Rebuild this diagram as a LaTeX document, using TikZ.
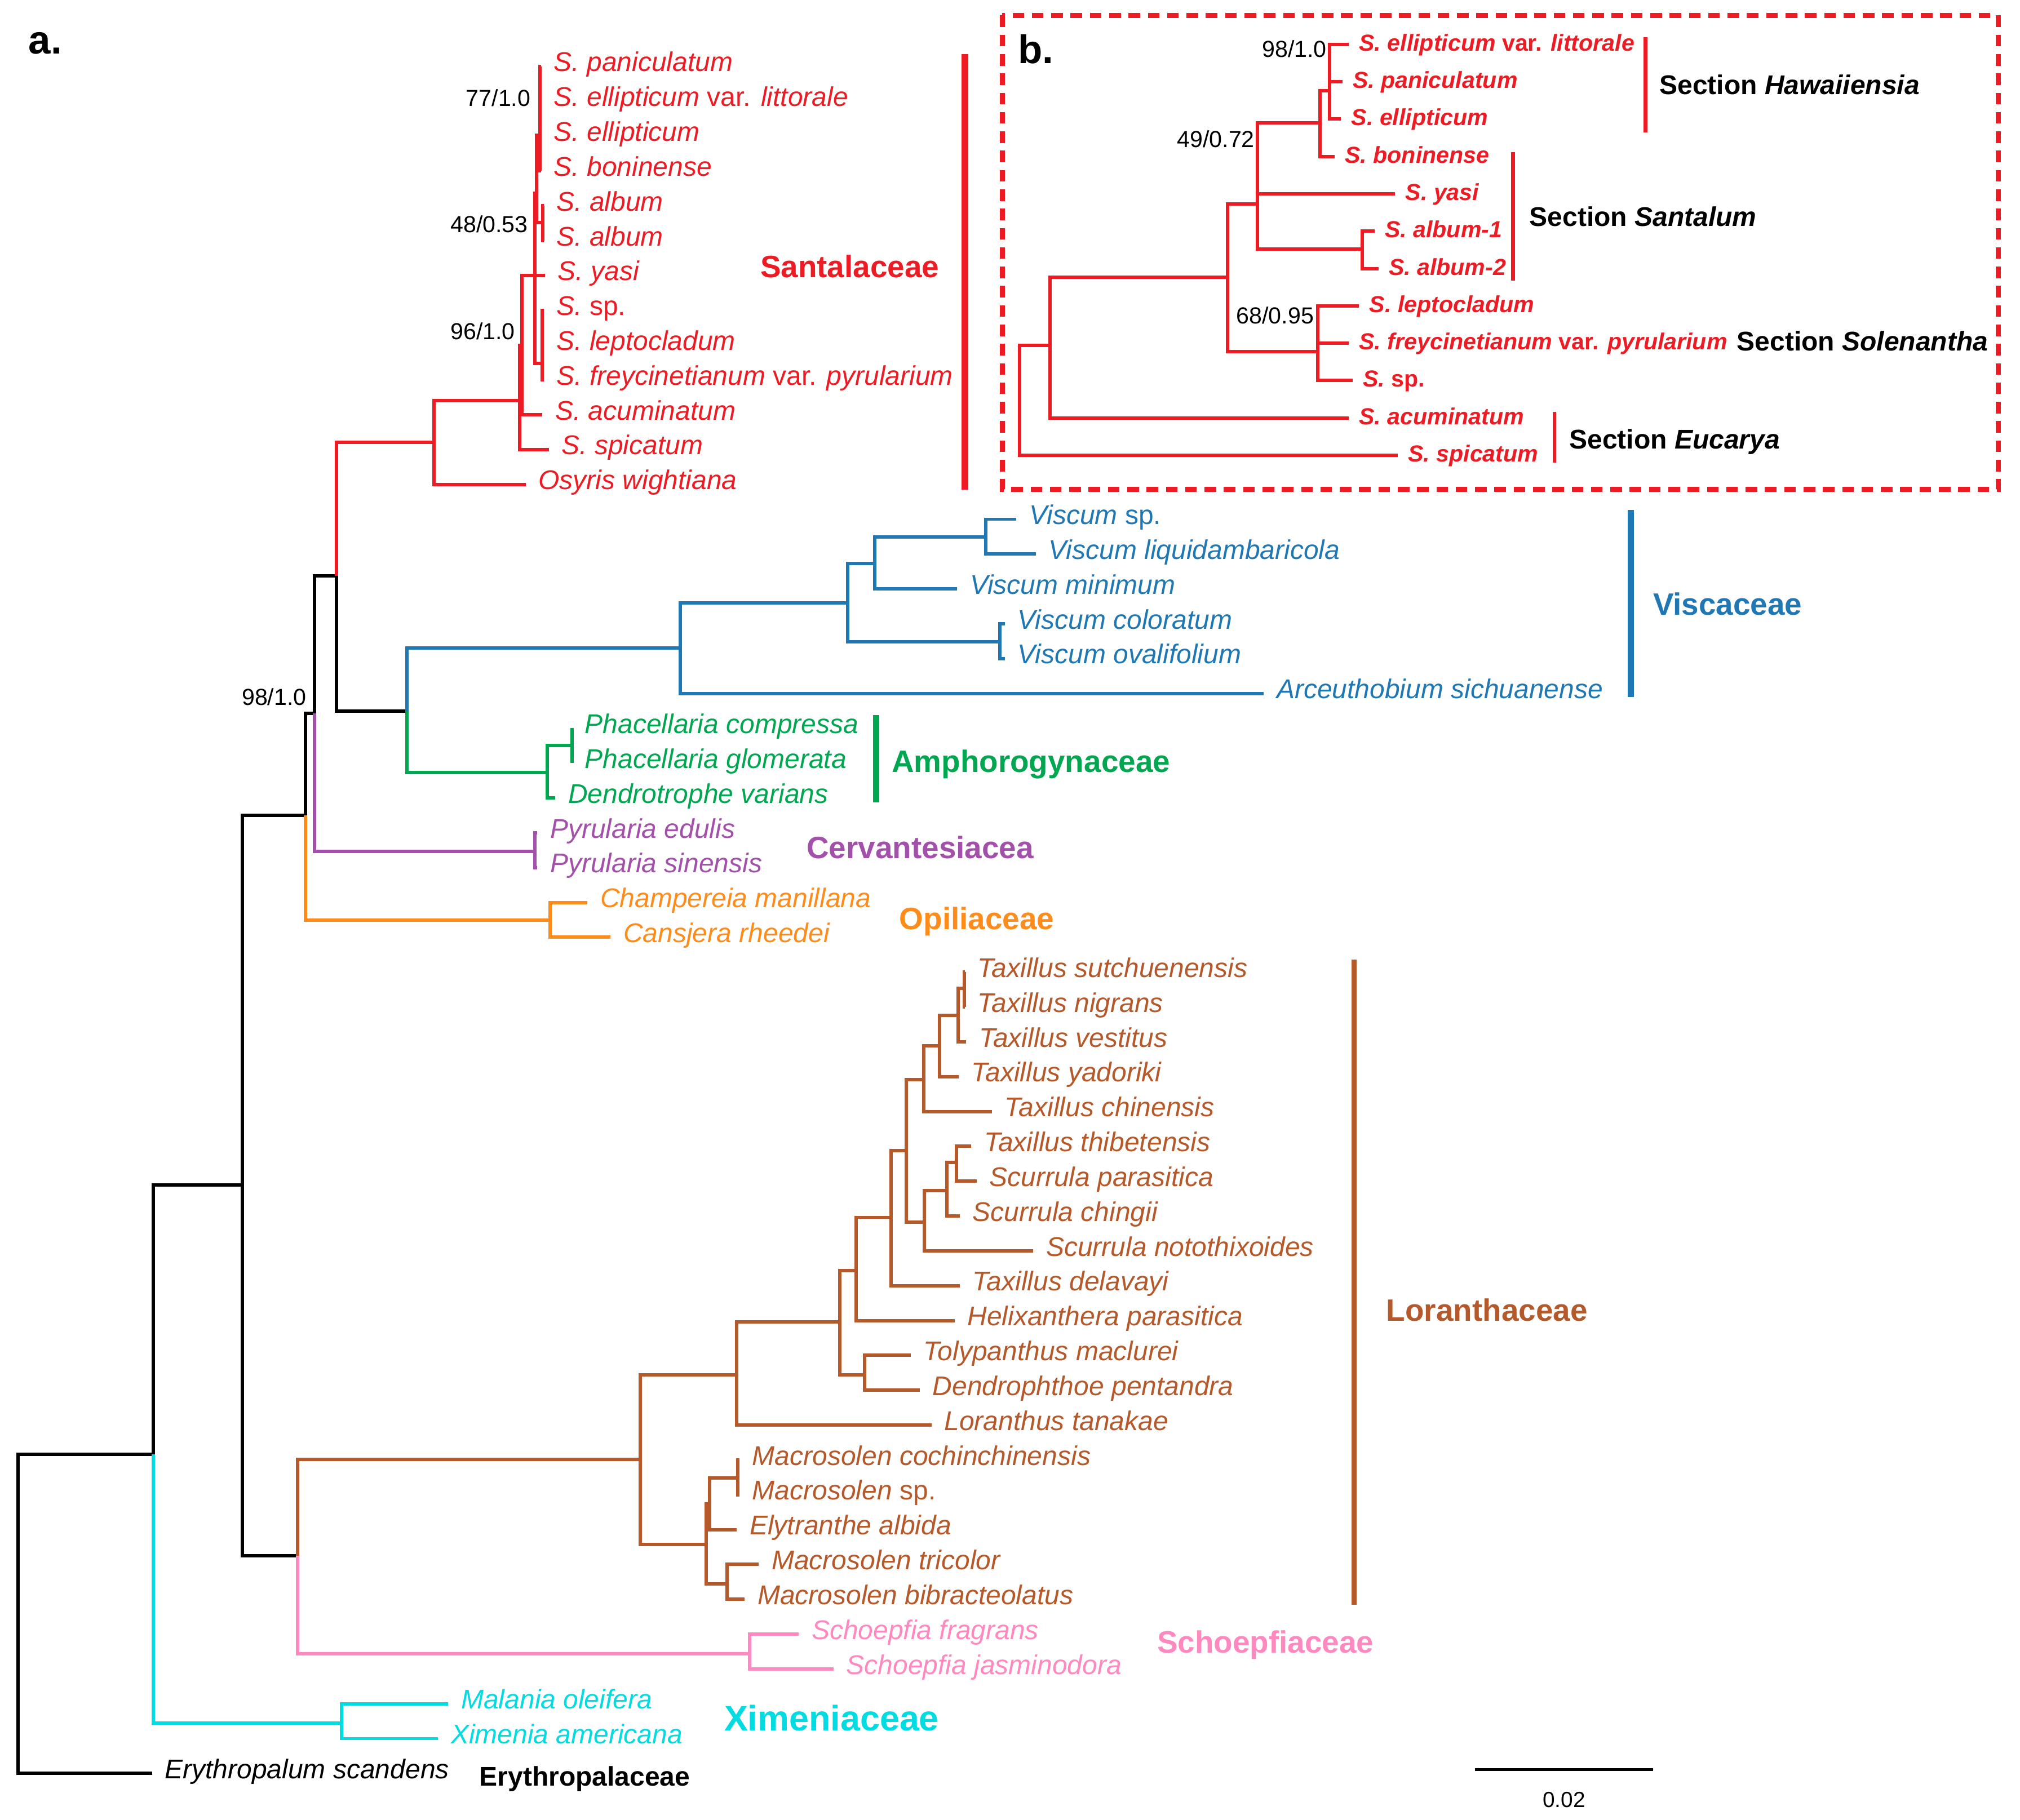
\documentclass[tikz,border=0pt]{standalone}
\usepackage{fontspec}
\setmainfont{Liberation Sans}
\definecolor{santred}{RGB}{237,28,36}
\definecolor{viscblue}{RGB}{31,120,180}
\definecolor{amphgreen}{RGB}{0,166,80}
\definecolor{cervpurple}{RGB}{163,80,170}
\definecolor{opilorange}{RGB}{255,140,26}
\definecolor{lorbrown}{RGB}{181,88,42}
\definecolor{schpink}{RGB}{255,136,190}
\definecolor{ximcyan}{RGB}{0,220,226}
\tikzset{
  branch/.style={line width=2.6pt, line join=miter},
  cladebar/.style={line width=5pt},
  secbar/.style={line width=3pt, santred},
  leaf/.style={anchor=west, inner xsep=0pt, inner ysep=0pt, outer xsep=10pt, outer ysep=0pt,
    text height=12pt, text depth=4pt, font=\fontsize{21}{25}\selectfont\itshape},
  leafb/.style={anchor=west, inner xsep=0pt, inner ysep=0pt, outer xsep=8pt, outer ysep=0pt,
    text height=11pt, text depth=1pt, text=santred, font=\fontsize{18}{22}\selectfont\bfseries\itshape},
  family/.style={anchor=west, inner sep=0pt, text height=17.2pt, text depth=0pt,
    font=\fontsize{24}{28}\selectfont\bfseries},
  section/.style={anchor=west, inner sep=0pt, text height=15pt, text depth=0pt,
    font=\fontsize{21}{25}\selectfont\bfseries},
  support/.style={anchor=east, inner sep=0pt, text height=12.9pt, text depth=0pt,
    font=\fontsize{18}{22}\selectfont},
  panel/.style={anchor=base west, inner sep=0pt, font=\fontsize{31}{36}\selectfont\bfseries},
}
\begin{document}
\begin{tikzpicture}[x=1pt, y=-1pt]
\path[fill=white, use as bounding box] (0,0) rectangle (1568,1413);

\node[panel] (pa) at (22,42) {a.};
\node[panel] (pb) at (790,49) {b.};

% backbone and clade roots
\coordinate (root) at (14,1253);
\coordinate (B1) at (119,1129);
\coordinate (B2) at (188,920);
\coordinate (B3) at (237,633);
\coordinate (B4) at (244,554);
\coordinate (B5) at (261,447);
\coordinate (VA) at (316,552);
\coordinate (LS) at (231,1208);
\coordinate (X) at (265,1338);
% Santalaceae
\coordinate (sanR) at (337,343.5);
\coordinate (S1) at (403.5,311);
\coordinate (S2) at (405,268);
\coordinate (S3) at (415,214);
\coordinate (S4) at (416.5,150);
\coordinate (S6) at (419,105);
\coordinate (S7) at (421.5,173);
\coordinate (S5) at (421,282);
% Viscaceae
\coordinate (V1) at (528,503);
\coordinate (V2) at (658,468);
\coordinate (V3) at (679,437.6);
\coordinate (V4) at (765,417);
\coordinate (V5) at (776,498.3);
% Amphorogynaceae, Cervantesiacea, Opiliaceae, Schoepfiaceae
\coordinate (A1) at (425,600);
\coordinate (A2) at (444,579);
\coordinate (C) at (415,661);
\coordinate (O) at (427,714.5);
\coordinate (Sch) at (582,1284);
% Loranthaceae
\coordinate (Lo1) at (748.6,767.5);
\coordinate (Lo2) at (743.6,788.4);
\coordinate (Lo3) at (729.3,811.9);
\coordinate (Lo4) at (717.2,838.3);
\coordinate (Lo5) at (703.4,893.2);
\coordinate (Lo6) at (717.6,948.8);
\coordinate (Lo7) at (734.8,924.4);
\coordinate (Lo8) at (742.3,902.6);
\coordinate (Lo9) at (691.6,945.2);
\coordinate (Lo10) at (664.5,986.4);
\coordinate (Lo11) at (652,1026.3);
\coordinate (Lo12) at (671,1067.4);
\coordinate (Lo13) at (572,1067.4);
\coordinate (Lo14) at (497,1133);
\coordinate (Lo15) at (548,1199);
\coordinate (Lo16) at (551,1167.8);
\coordinate (Lo17) at (572.7,1147.7);
\coordinate (Lo18) at (564.4,1229.8);

% leaves of panel a
\foreach \n/\x/\r/\t in {pan/420/0/S. paniculatum, ellvar/420/1/S. ellipticum {\upshape var.} littorale,
  ell/420/2/S. ellipticum, bon/420/3/S. boninense, alba/422/4/S. album, albb/422/5/S. album,
  yasi/423/6/S. yasi, ssp/422/7/S. {\upshape sp.}, lepto/422/8/S. leptocladum,
  freyc/422/9/S. freycinetianum {\upshape var.} pyrularium, acu/421/10/S. acuminatum,
  spi/426/11/S. spicatum, osy/408/12/Osyris wightiana}
  \node[leaf, text=santred] (\n) at (\x,{51.5+27.05*\r}) {\t};
\foreach \n/\x/\r/\t in {vsp/789/13/Viscum {\upshape sp.}, vliq/804/14/Viscum liquidambaricola,
  vmin/743/15/Viscum minimum, vcol/780/16/Viscum coloratum, vova/780/17/Viscum ovalifolium,
  arc/981/18/Arceuthobium sichuanense}
  \node[leaf, text=viscblue] (\n) at (\x,{51.5+27.05*\r}) {\t};
\foreach \n/\x/\r/\t in {phc/444/19/Phacellaria compressa, phg/444/20/Phacellaria glomerata,
  den/431/21/Dendrotrophe varians}
  \node[leaf, text=amphgreen] (\n) at (\x,{51.5+27.05*\r}) {\t};
\foreach \n/\x/\r/\t in {pye/417/22/Pyrularia edulis, pys/417/23/Pyrularia sinensis}
  \node[leaf, text=cervpurple] (\n) at (\x,{51.5+27.05*\r}) {\t};
\foreach \n/\x/\r/\t in {cha/456/24/Champereia manillana, can/474/25/Cansjera rheedei}
  \node[leaf, text=opilorange] (\n) at (\x,{51.5+27.05*\r}) {\t};
\foreach \n/\x/\r/\t in {tsu/749/26/Taxillus sutchuenensis, tni/749/27/Taxillus nigrans,
  tve/750/28/Taxillus vestitus, tya/744/29/Taxillus yadoriki, tch/770/30/Taxillus chinensis,
  tth/754/31/Taxillus thibetensis, spa/758/32/Scurrula parasitica, sci/745/33/Scurrula chingii,
  sno/802/34/Scurrula notothixoides, tde/745/35/Taxillus delavayi, hel/741/36/Helixanthera parasitica,
  tol/707/37/Tolypanthus maclurei, dpe/714/38/Dendrophthoe pentandra, lta/723/39/Loranthus tanakae,
  mco/574/40/Macrosolen cochinchinensis, msp/574/41/Macrosolen {\upshape sp.},
  ely/572/42/Elytranthe albida, mtr/589/43/Macrosolen tricolor, mbi/578/44/Macrosolen bibracteolatus}
  \node[leaf, text=lorbrown] (\n) at (\x,{51.5+27.05*\r}) {\t};
\foreach \n/\x/\r/\t in {sfr/620/45/Schoepfia fragrans, sja/647/46/Schoepfia jasminodora}
  \node[leaf, text=schpink] (\n) at (\x,{51.5+27.05*\r}) {\t};
\foreach \n/\x/\r/\t in {mal/348/47/Malania oleifera, xim/340/48/Ximenia americana}
  \node[leaf, text=ximcyan] (\n) at (\x,{51.5+27.05*\r}) {\t};
\node[leaf] (ery) at (118,{51.5+27.05*49}) {Erythropalum scandens};

% branches of panel a
\foreach \a/\b in {root/B1, root/ery, B1/B2, B2/B3, B2/LS, B3/B4, B4/B5, B5/VA}
  \draw[branch] (\a) |- (\b);
\foreach \a/\b in {B1/X, X/mal, X/xim}
  \draw[branch, ximcyan] (\a) |- (\b);
\foreach \a/\b in {B5/sanR, sanR/osy, sanR/S1, S1/spi, S1/S2, S2/acu, S2/S3, S3/yasi, S3/S4, S3/S5,
  S4/S6, S4/S7, S6/pan, S6/ellvar, S6/ell, S6/bon, S7/alba, S7/albb, S5/ssp, S5/lepto, S5/freyc}
  \draw[branch, santred] (\a) |- (\b);
\foreach \a/\b in {VA/V1, V1/arc, V1/V2, V2/V3, V2/V5, V3/vmin, V3/V4, V4/vsp, V4/vliq, V5/vcol, V5/vova}
  \draw[branch, viscblue] (\a) |- (\b);
\foreach \a/\b in {VA/A1, A1/A2, A1/den, A2/phc, A2/phg}
  \draw[branch, amphgreen] (\a) |- (\b);
\foreach \a/\b in {B4/C, C/pye, C/pys}
  \draw[branch, cervpurple] (\a) |- (\b);
\foreach \a/\b in {B3/O, O/cha, O/can}
  \draw[branch, opilorange] (\a) |- (\b);
\foreach \a/\b in {LS/Lo14, Lo14/Lo13, Lo14/Lo15, Lo13/Lo11, Lo13/lta, Lo11/Lo10, Lo11/Lo12,
  Lo10/Lo9, Lo10/hel, Lo12/tol, Lo12/dpe, Lo9/Lo5, Lo9/tde, Lo5/Lo4, Lo5/Lo6, Lo4/Lo3, Lo4/tch,
  Lo3/Lo2, Lo3/tya, Lo2/Lo1, Lo2/tve, Lo1/tsu, Lo1/tni, Lo6/Lo7, Lo6/sno, Lo7/Lo8, Lo7/sci,
  Lo8/tth, Lo8/spa, Lo15/Lo16, Lo15/Lo18, Lo16/Lo17, Lo16/ely, Lo17/mco, Lo17/msp, Lo18/mtr, Lo18/mbi}
  \draw[branch, lorbrown] (\a) |- (\b);
\foreach \a/\b in {LS/Sch, Sch/sfr, Sch/sja}
  \draw[branch, schpink] (\a) |- (\b);

% support values
\node[support] (bs77) at (412,76) {77/1.0};
\node[support] (bs48) at (410,174) {48/0.53};
\node[support] (bs96) at (400,257) {96/1.0};
\node[support] (bs98) at (238,541) {98/1.0};

% families
\draw[cladebar, santred] (749,42) -- (749,380);
\draw[cladebar, viscblue] (1266,396) -- (1266,541);
\draw[cladebar, amphgreen] (680,555) -- (680,623);
\draw[line width=4pt, lorbrown] (1051,745) -- (1051,1246);
\node[family, text=santred] (fsan) at (590,207) {Santalaceae};
\node[family, text=viscblue] (fvis) at (1283,469) {Viscaceae};
\node[family, text=amphgreen] (famp) at (692,591) {Amphorogynaceae};
\node[family, text=cervpurple] (fcer) at (626,658) {Cervantesiacea};
\node[family, text=opilorange] (fopi) at (698,713) {Opiliaceae};
\node[family, text=lorbrown] (flor) at (1076,1017) {Loranthaceae};
\node[family, text=schpink] (fsch) at (898,1275) {Schoepfiaceae};
\node[family, text=ximcyan, text height=19.5pt, font=\fontsize{27.5}{32}\selectfont\bfseries] (fxim) at (562,1334) {Ximeniaceae};
\node[section] (fery) at (372,1379) {Erythropalaceae};

% scale bar
\coordinate (sb1) at (1145,1374);
\coordinate (sb2) at (1283,1374);
\draw[line width=2.4pt] (sb1) -- (sb2);
\node[inner sep=0pt, text height=12.2pt, text depth=0pt, font=\fontsize{17}{20}\selectfont] (sbl) at (1214,1397) {0.02};

% ---- panel b
\draw[santred, line width=4pt, dash pattern=on 9pt off 6pt] (778,12) rectangle (1551,380);
\coordinate (bR) at (791.5,311);
\coordinate (Pb1) at (815,268);
\coordinate (Pb2) at (953,215.4);
\coordinate (Pb3) at (1023,273.2);
\coordinate (Pb4) at (976,158.2);
\coordinate (Pb5) at (1057.5,193.3);
\coordinate (Pb6) at (1024.5,95.4);
\coordinate (Pb7) at (1032,70.3);
\foreach \n/\x/\r/\t in {bellv/1047/0/S. ellipticum {\upshape var.} littorale, bpan/1042/1/S. paniculatum,
  bell/1041/2/S. ellipticum, bbon/1036/3/S. boninense, byas/1083/4/S. yasi, ba1/1067/5/S. album-1,
  ba2/1070/6/S. album-2, blep/1055/7/S. leptocladum, bfre/1047/8/S. freycinetianum {\upshape var.} pyrularium,
  bsp/1050/9/S. {\upshape sp.}, bacu/1047/10/S. acuminatum, bspi/1085/11/S. spicatum}
  \node[leafb] (\n) at (\x,{34.5+29*\r}) {\t};
\foreach \a/\b in {bR/bspi, bR/Pb1, Pb1/bacu, Pb1/Pb2, Pb2/Pb4, Pb2/Pb3, Pb3/blep, Pb3/bfre, Pb3/bsp,
  Pb4/Pb6, Pb4/byas, Pb4/Pb5, Pb5/ba1, Pb5/ba2, Pb6/Pb7, Pb6/bbon, Pb7/bellv, Pb7/bpan, Pb7/bell}
  \draw[branch, santred] (\a) |- (\b);
\node[support] (bb98) at (1030,38) {98/1.0};
\node[support] (bb49) at (974,108) {49/0.72};
\node[support] (bb68) at (1020,245) {68/0.95};
\draw[secbar] (1277.4,29) -- (1277.4,103);
\draw[secbar] (1174.6,118) -- (1174.6,218);
\draw[secbar] (1206.6,320) -- (1206.6,359);
\node[section] (shaw) at (1288,66) {Section \textit{Hawaiiensia}};
\node[section] (ssan) at (1187,168) {Section \textit{Santalum}};
\node[section] (ssol) at (1348,265) {Section \textit{Solenantha}};
\node[section] (seuc) at (1218,341) {Section \textit{Eucarya}};
\end{tikzpicture}
\end{document}
